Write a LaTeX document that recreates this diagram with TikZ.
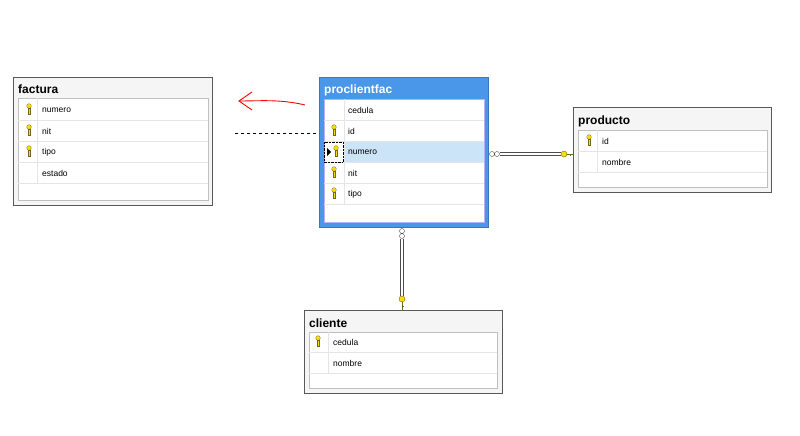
\documentclass[tikz,border=0pt]{standalone}
\usepackage{fontspec}
\setmainfont{Liberation Sans}
\definecolor{selrow}{RGB}{204,228,247}
\definecolor{hdrblue}{RGB}{74,150,232}
\begin{document}
\begin{tikzpicture}[x=1pt,y=-1pt,
 tbl/.style={draw=gray!70!black,fill=gray!8},
 inner/.style={draw=gray!50,fill=white},
 ttl/.style={anchor=west,font=\bfseries\fontsize{12}{13}\selectfont,inner sep=0},
 fld/.style={anchor=west,font=\fontsize{8.5}{9}\selectfont,inner sep=0},
 rel/.style={draw=gray!60!black,line width=0.7pt}]
\useasboundingbox (0,0) rectangle (800,436);
\newcommand{\keyic}[2]{\fill[yellow!80!orange,draw=olive!70!black,line width=0.3pt] (#1,#2-4) circle (2.3);
 \fill[yellow!80!orange,draw=olive!70!black,line width=0.3pt] (#1-0.9,#2-2) rectangle (#1+0.9,#2+4);}
\newcommand{\rowline}[3]{\draw[gray!20] (#1,#3) -- (#2,#3);}
% factura
\draw[tbl] (13,77) rectangle (212,205);
\node[ttl] (tf) at (18,89) {factura};
\draw[inner] (18,98) rectangle (208,200);
\foreach \y in {120,141,162,183} \rowline{18}{208}{\y}
\draw[gray!20] (37,98) -- (37,183);
\node[fld] (f1) at (42,110) {numero}; \keyic{29}{110}
\node[fld] (f2) at (42,131) {nit}; \keyic{29}{131}
\node[fld] (f3) at (42,152) {tipo}; \keyic{29}{152}
\node[fld] (f4) at (42,173) {estado};
% proclientfac
\draw[draw=hdrblue!80!black,fill=hdrblue,line width=1pt] (319,77) rectangle (488,227);
\node[ttl,text=white] (tp) at (324,90) {proclientfac};
\draw[inner,draw=blue!30] (324,99) rectangle (484,222);
\fill[selrow] (344,142) rectangle (484,162);
\foreach \y in {120,141,162,183,204} \rowline{324}{484}{\y}
\draw[gray!20] (344,99) -- (344,204);
\draw[densely dotted] (324,142) rectangle (343,162);
\node[fld] (p1) at (348,110) {cedula};
\node[fld] (p2) at (348,131) {id}; \keyic{334}{131}
\node[fld] (p3) at (348,152) {numero}; \keyic{336}{152}
\fill (327,148) -- (331,152) -- (327,156) -- cycle;
\node[fld] (p4) at (348,173) {nit}; \keyic{334}{173}
\node[fld] (p5) at (348,194) {tipo}; \keyic{334}{194}
% producto
\draw[tbl] (573,107) rectangle (771,192);
\node[ttl] (tr) at (578,121) {producto};
\draw[inner] (578,130) rectangle (767,187);
\foreach \y in {151,172} \rowline{578}{767}{\y}
\draw[gray!20] (597,130) -- (597,172);
\node[fld] (r1) at (602,141) {id}; \keyic{589}{141}
\node[fld] (r2) at (602,162) {nombre};
% cliente
\draw[tbl] (304,310) rectangle (502,393);
\node[ttl] (tc) at (309,323) {cliente};
\draw[inner] (309,332) rectangle (497,388);
\foreach \y in {352,373} \rowline{309}{497}{\y}
\draw[gray!20] (328,332) -- (328,373);
\node[fld] (c1) at (333,342) {cedula}; \keyic{318}{342}
\node[fld] (c2) at (333,363) {nombre};
% relations
\draw[rel] (500,152.5) -- (561,152.5) (500,155.5) -- (561,155.5);
\draw[gray!60!black,fill=white] (492,154) circle (2.5) (497,154) circle (2.5);
\fill[yellow!80!orange,draw=olive!70!black] (564,154) circle (3);
\draw[olive!70!black,line width=1pt] (567,154) -- (573,154) (570,154)--(570,156);
\draw[rel] (400.5,239) -- (400.5,296) (403.5,239) -- (403.5,296);
\draw[gray!60!black,fill=white] (402,231) circle (2.5) (402,236) circle (2.5);
\fill[yellow!80!orange,draw=olive!70!black] (402,299) circle (3);
\draw[olive!70!black,line width=1pt] (402,302) -- (402,310) (402,306)--(404,306);
% dashed
\coordinate (d1) at (235,133);
\draw[dashed,black] (d1) -- (319,133);
% red arrow
\draw[red,line width=0.9pt] (305,105) .. controls (280,99) and (260,101) .. (239,101);
\draw[red,line width=0.9pt] (252,92) -- (239,101) -- (252,110);
\end{tikzpicture}
\end{document}
